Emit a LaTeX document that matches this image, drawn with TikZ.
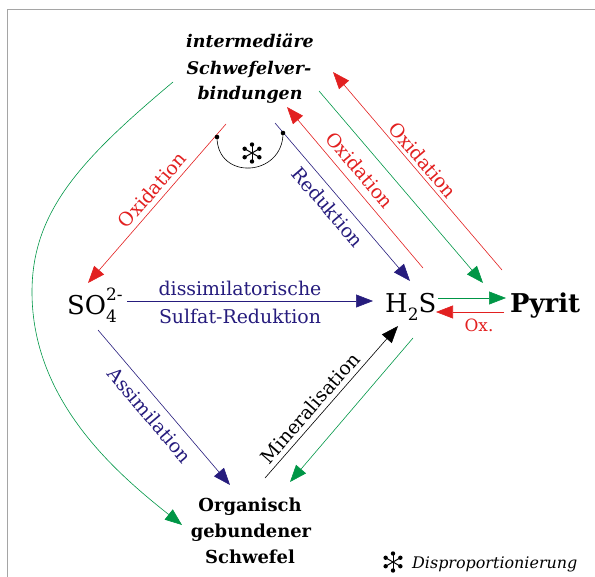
\documentclass[tikz,border=0pt]{standalone}
\usepackage{fontspec}
\setmainfont{DejaVu Serif}
\usetikzlibrary{arrows.meta}
\definecolor{cred}{RGB}{226,32,32}
\definecolor{cblue}{RGB}{38,28,125}
\definecolor{cgreen}{RGB}{0,150,70}
\definecolor{cframe}{RGB}{165,165,165}
\tikzset{
  conn/.style={line width=0.6bp,-{Triangle[length=17bp,width=13bp]}},
  redc/.style={conn,draw=cred},
  bluec/.style={conn,draw=cblue},
  greenc/.style={conn,draw=cgreen},
  blackc/.style={conn,draw=black},
  lbl/.style={inner sep=0pt,font=\fontsize{19}{22}\selectfont},
  big/.style={inner sep=0pt,anchor=base west,font=\fontsize{26}{30}\selectfont},
  titl/.style={inner sep=0pt,anchor=base,font=\fontsize{17.5}{22}\selectfont\bfseries\itshape},
  orgl/.style={inner sep=0pt,anchor=base,font=\fontsize{18}{22}\selectfont\bfseries},
  pics/disp/.style={code={
    \foreach \a in {30,90,...,330}{
      \draw[line width=1bp] (0,0) -- (\a:8.5);
      \fill (\a:8.5) circle (2.2);
    }
  }}
}
\begin{document}
\begin{tikzpicture}[x=1bp,y=-1bp]
\useasboundingbox (0,0) rectangle (595,577);
\draw[cframe,line width=1.2bp] (7.5,577) -- (7.5,9.5) -- (595,9.5);

% main texts
\node[titl] (int1) at (250,48) {intermediäre};
\node[titl] (int2) at (249,75) {Schwefelver-};
\node[titl] (int3) at (250,100) {bindungen};

\node[big] (so4) at (67,314) {SO\rlap{\raisebox{-8bp}{\fontsize{17}{17}\selectfont 4}}\raisebox{14bp}{\fontsize{17}{17}\selectfont 2-}};
\node[big] (h2s) at (385,312) {H\raisebox{-8bp}{\fontsize{17}{17}\selectfont 2}S};
\node[big,font=\fontsize{26}{30}\selectfont\bfseries] (pyrit) at (510,312) {Pyrit};

\node[orgl] (org1) at (250,511) {Organisch};
\node[orgl] (org2) at (251,537) {gebundener};
\node[orgl] (org3) at (250,563) {Schwefel};

% coordinates
\coordinate (oxLs) at (226,124);  \coordinate (oxLe) at (88,283);
\coordinate (reds) at (275,123);  \coordinate (rede) at (410,281);
\coordinate (oxMs) at (423,268);  \coordinate (oxMe) at (287,107);
\coordinate (grs)  at (319,91);   \coordinate (gre)  at (483,283);
\coordinate (oxOs) at (502,270);  \coordinate (oxOe) at (333,72);
\coordinate (dsrs) at (127,301);  \coordinate (dsre) at (373,301);
\coordinate (hpys) at (438,298);  \coordinate (hpye) at (506,298);
\coordinate (pyhs) at (504,312);  \coordinate (pyhe) at (436,312);
\coordinate (ass)  at (98,330);   \coordinate (ase)  at (230,485);
\coordinate (mis)  at (265,478);  \coordinate (mie)  at (398,326);
\coordinate (gls)  at (413,338);  \coordinate (gle)  at (290,482);
\coordinate (gcs)  at (173,82);   \coordinate (gcm)  at (32,292);  \coordinate (gce) at (182,525);
\coordinate (dotL) at (217,137);  \coordinate (dotR) at (283,133);

% arrows
\draw[redc] (oxLs) -- (oxLe);
\draw[bluec] (reds) -- (rede);
\draw[redc] (oxMs) -- (oxMe);
\draw[greenc] (grs) -- (gre);
\draw[redc] (oxOs) -- (oxOe);
\draw[bluec] (dsrs) -- (dsre);
\draw[greenc] (hpys) -- (hpye);
\draw[redc] (pyhs) -- (pyhe);
\draw[bluec] (ass) -- (ase);
\draw[blackc] (mis) -- (mie);
\draw[greenc] (gls) -- (gle);
\draw[greenc] (gcs) .. controls (80,160) and (32,212) .. (gcm)
   .. controls (32,400) and (115,472) .. (gce);

% disproportionation arc
\draw[line width=0.6bp] (dotL) .. controls (217,181) and (283,177) .. (dotR);
\fill (dotL) circle (2.3);
\fill (dotR) circle (2.3);
\pic at (252,153) {disp};

% labels
\node[lbl,text=cred,rotate=49] (lox1) at (152,190) {Oxidation};
\node[lbl,text=cblue,rotate=-49.3] (lred) at (328,207) {Reduktion};
\node[lbl,text=cred,rotate=-49.8] (lox2) at (360,170) {Oxidation};
\node[lbl,text=cred,rotate=-49.5] (lox3) at (423,160) {Oxidation};
\node[lbl,text=cblue,anchor=base] (ldis1) at (240,295) {dissimilatorische};
\node[lbl,text=cblue,anchor=base] (ldis2) at (240,323) {Sulfat-Reduktion};
\node[lbl,text=cred,anchor=base,font=\fontsize{17}{20}\selectfont] (lox4) at (479,331) {Ox.};
\node[lbl,text=cblue,rotate=-49.6] (lass) at (150,415) {Assimilation};
\node[lbl,rotate=48.8] (lmin) at (310,408) {Mineralisation};

% legend
\pic at (393,562) {disp};
\node[lbl,anchor=base west,font=\fontsize{16}{20}\selectfont\itshape] (leg) at (412,568) {Disproportionierung};
\end{tikzpicture}
\end{document}
